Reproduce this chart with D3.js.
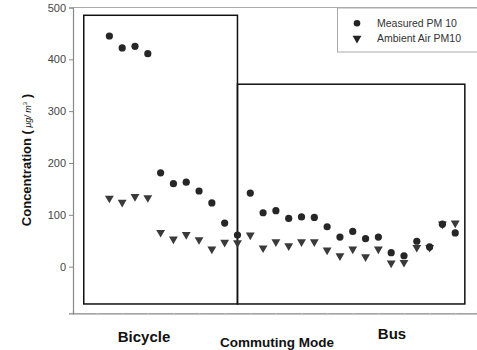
<!DOCTYPE html>
<html>
<head>
<meta charset="utf-8">
<script src="https://cdn.jsdelivr.net/npm/d3@7"></script>
<style>
  body { margin: 0; background: #fff; }
  svg { display: block; font-family: "Liberation Sans", Arial, sans-serif; }
</style>
</head>
<body>
<div id="chart"></div>
<script>
// Sample positions along the x axis (1..28)
const positions = d3.range(1, 29);

// Measured PM 10 (circles)
const measured = [445, 422, 425, 411, 181, 160, 163, 146, 123, 84,
                  61, 142, 104, 108, 93, 96, 95, 77, 57, 68,
                  54, 57, 27, 21, 49, 38, 82, 65];

// Ambient Air PM10 (triangles)
const ambient = [132, 124, 135, 133, 66, 53, 62, 52, 34, 47,
                 46, 61, 36, 48, 40, 48, 48, 32, 21, 34,
                 19, 34, 7, 8, 37, 37, 82, 84];

const yTicks = [0, 100, 200, 300, 400, 500];
const xTicks = d3.range(0, 30, 2);

// Commuting mode groups, in axis units
const groups = [
  { name: "Bicycle", x0: -1, x1: 11, top: 485, bottom: -72 },
  { name: "Bus", x0: 11, x1: 28.75, top: 352, bottom: -72 }
];

const width = 477, height = 350;

const svg = d3.select("#chart")
    .append("svg")
    .attr("width", width)
    .attr("height", height);

const x = d3.scaleLinear().domain([-1.84, 29.7]).range([73, 477]);
const y = d3.scaleLinear().domain([-90, 500]).range([313.3, 7.5]);

// top frame line
svg.append("line")
    .attr("x1", 73).attr("x2", 477)
    .attr("y1", y(500)).attr("y2", y(500))
    .attr("stroke", "#aaa").attr("stroke-width", 1);

// y axis
const yAxis = svg.append("g")
    .attr("transform", `translate(${x.range()[0]},0)`)
    .call(d3.axisLeft(y).tickValues(yTicks).tickSize(4).tickPadding(3));
yAxis.select(".domain").attr("stroke", "#888").attr("stroke-width", 1.2);
yAxis.selectAll(".tick line").attr("stroke", "#888");
yAxis.selectAll(".tick text")
    .attr("fill", "#444")
    .style("font-size", "11px");

// x axis (ticks only)
const xAxis = svg.append("g")
    .attr("transform", `translate(0,${y.range()[0]})`)
    .call(d3.axisBottom(x).tickValues(xTicks).tickSize(-2).tickFormat(""));
xAxis.select(".domain").attr("stroke", "#888").attr("stroke-width", 1.2);
xAxis.selectAll(".tick line").attr("stroke", "#fff").attr("stroke-width", 1.5);

// group boxes
svg.append("g")
    .selectAll("rect")
    .data(groups)
    .join("rect")
    .attr("x", d => x(d.x0))
    .attr("y", d => y(d.top))
    .attr("width", d => x(d.x1) - x(d.x0))
    .attr("height", d => y(d.bottom) - y(d.top))
    .attr("fill", "none")
    .attr("stroke", "#111")
    .attr("stroke-width", 1.5);

// ambient triangles
const tri = d3.symbol().type(d3.symbolTriangle).size(34);
svg.append("g")
    .selectAll("path")
    .data(positions)
    .join("path")
    .attr("d", tri)
    .attr("transform", (d, i) => `translate(${x(d)},${y(ambient[i])}) rotate(180)`)
    .attr("fill", "#3a3a3a");

// measured circles
svg.append("g")
    .selectAll("circle")
    .data(positions)
    .join("circle")
    .attr("cx", d => x(d))
    .attr("cy", (d, i) => y(measured[i]))
    .attr("r", 3.6)
    .attr("fill", "#262626");

// group labels
svg.append("g")
    .selectAll("text")
    .data(groups)
    .join("text")
    .attr("x", (d, i) => i === 0 ? 144 : 392)
    .attr("y", (d, i) => i === 0 ? 341.5 : 339)
    .attr("text-anchor", "middle")
    .style("font-size", "15px")
    .style("font-weight", "bold")
    .attr("fill", "#111")
    .text(d => d.name);

svg.append("text")
    .attr("x", 277)
    .attr("y", 347)
    .attr("text-anchor", "middle")
    .style("font-size", "13.5px")
    .style("font-weight", "bold")
    .attr("fill", "#111")
    .text("Commuting Mode");

// y label
const yl = svg.append("text")
    .attr("transform", "translate(31,160) rotate(-90)")
    .attr("text-anchor", "middle")
    .style("font-size", "13px")
    .style("font-weight", "bold")
    .attr("fill", "#111");
yl.append("tspan").text("Concentration (");
yl.append("tspan").style("font-size", "9px").style("font-weight", "normal")
    .style("font-style", "italic").text(" μg/ m");
yl.append("tspan").style("font-size", "6px").style("font-weight", "normal")
    .attr("dy", -4).text("3");
yl.append("tspan").attr("dy", 4).text(" )");

// legend
const legend = svg.append("g");
legend.append("rect")
    .attr("x", 337.5).attr("y", 8)
    .attr("width", 140).attr("height", 44)
    .attr("fill", "#fff")
    .attr("stroke", "#aaa");
const items = [
  { label: "Measured PM 10", shape: "circle" },
  { label: "Ambient Air PM10", shape: "triangle" }
];
items.forEach((it, i) => {
  const cy = 23.3 + i * 15;
  if (it.shape === "circle") {
    legend.append("circle").attr("cx", 357).attr("cy", cy).attr("r", 3.3).attr("fill", "#222");
  } else {
    legend.append("path").attr("d", tri)
        .attr("transform", `translate(357,${cy}) rotate(180)`).attr("fill", "#222");
  }
  legend.append("text")
      .attr("x", 377).attr("y", cy + 3.8)
      .style("font-size", "10.5px")
      .attr("fill", "#333")
      .text(it.label);
});
</script>
</body>
</html>
